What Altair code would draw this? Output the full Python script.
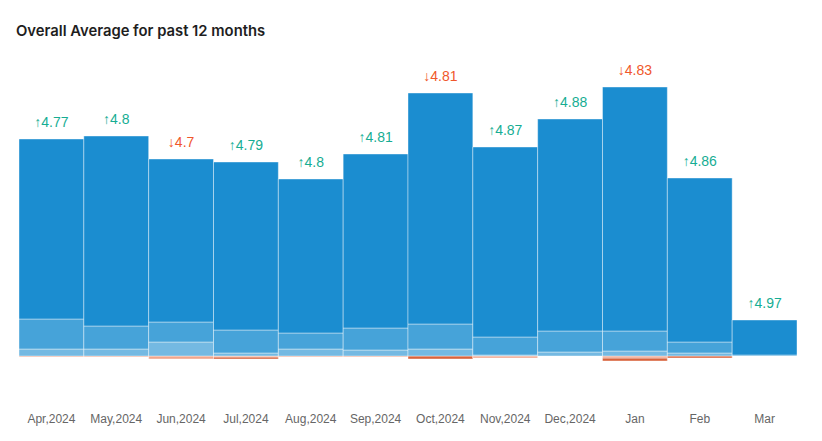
import altair as alt
import pandas as pd

months = ["Apr,2024", "May,2024", "Jun,2024", "Jul,2024", "Aug,2024", "Sep,2024",
          "Oct,2024", "Nov,2024", "Dec,2024", "Jan", "Feb", "Mar"]
# review counts per star rating (1 and 2 stars drawn below the baseline)
five_star = [180, 190, 163, 168, 154, 174, 231, 190, 212, 244, 164, 35]
four_star = [30, 23, 20, 23, 16, 22, 25, 18, 21, 20, 11, 1]
three_star = [7, 7, 14, 3, 7, 6, 7, 1, 4, 5, 3, 0]
two_star = [1, 1, 3, 1, 1, 1, 0, 2, 0, 2, 0, 0]
one_star = [0, 0, 0, 2, 0, 0, 3, 0, 0, 3, 2, 0]
averages = ["4.77", "4.8", "4.7", "4.79", "4.8", "4.81", "4.81", "4.87", "4.88", "4.83", "4.86", "4.97"]
trend = ["up", "up", "down", "up", "up", "up", "down", "up", "up", "down", "up", "up"]
title_text = "Overall Average for past 12 months"

rows = []
for i, m in enumerate(months):
    rows.append({"month": m, "rating": "1 star", "count": -one_star[i] - two_star[i], "start": -two_star[i]})
    rows.append({"month": m, "rating": "2 star", "count": -two_star[i], "start": 0})
    rows.append({"month": m, "rating": "3 star", "count": three_star[i], "start": 0})
    rows.append({"month": m, "rating": "4 star", "count": three_star[i] + four_star[i], "start": three_star[i]})
    rows.append({"month": m, "rating": "5 star", "count": three_star[i] + four_star[i] + five_star[i],
                 "start": three_star[i] + four_star[i]})
seg = pd.DataFrame(rows)
seg = seg[seg["count"] != seg["start"]]

lab = pd.DataFrame({
    "month": months,
    "total": [five_star[i] + four_star[i] + three_star[i] for i in range(len(months))],
    "label": [("\u2191" if t == "up" else "\u2193") + a for a, t in zip(averages, trend)],
    "trend": trend,
})

xenc = alt.X("month:N", sort=months,
             scale=alt.Scale(paddingInner=0, paddingOuter=0),
             axis=alt.Axis(title=None, labelAngle=0, ticks=False, domain=False,
                           labelPadding=13, labelFont="Liberation Sans", labelFontSize=12,
                           labelColor="#666666"))
yscale = alt.Scale(domain=[-44, 306], nice=False, zero=False)

bars = alt.Chart(seg).mark_bar(stroke="#ffffff", strokeOpacity=0.4, strokeWidth=1).encode(
    x=xenc,
    y=alt.Y("count:Q", scale=yscale, axis=None),
    y2="start:Q",
    color=alt.Color("rating:N",
                    scale=alt.Scale(domain=["1 star", "2 star", "3 star", "4 star", "5 star"],
                                    range=["#d9633c", "#f0a68c", "#74b9e2", "#46a3d9", "#1b8dd0"]),
                    legend=None),
)

texts = alt.Chart(lab).mark_text(baseline="alphabetic", dy=-12, font="Liberation Sans",
                                 fontSize=14).encode(
    x=alt.X("month:N", sort=months),
    y=alt.Y("total:Q", scale=yscale),
    text="label:N",
    color=alt.Color("trend:N", scale=alt.Scale(domain=["up", "down"], range=["#16ad93", "#f0572b"]),
                    legend=None),
)

title = alt.Chart(pd.DataFrame({"t": [title_text]})).mark_text(
    align="left", baseline="alphabetic", font="Inter", fontSize=14.8, fontWeight=600,
    color="#1e1e1e").encode(x=alt.value(-3), y=alt.value(-14), text="t:N")

chart = alt.layer(bars, texts, title).resolve_scale(color="independent").properties(
    width=778, height=350,
    autosize=alt.AutoSizeParams(type="none"),
    padding={"left": 11, "top": 42, "right": 17, "bottom": 33},
).configure_view(stroke=None)

chart.save("out.html", embed_options={"renderer": "svg", "actions": False})
